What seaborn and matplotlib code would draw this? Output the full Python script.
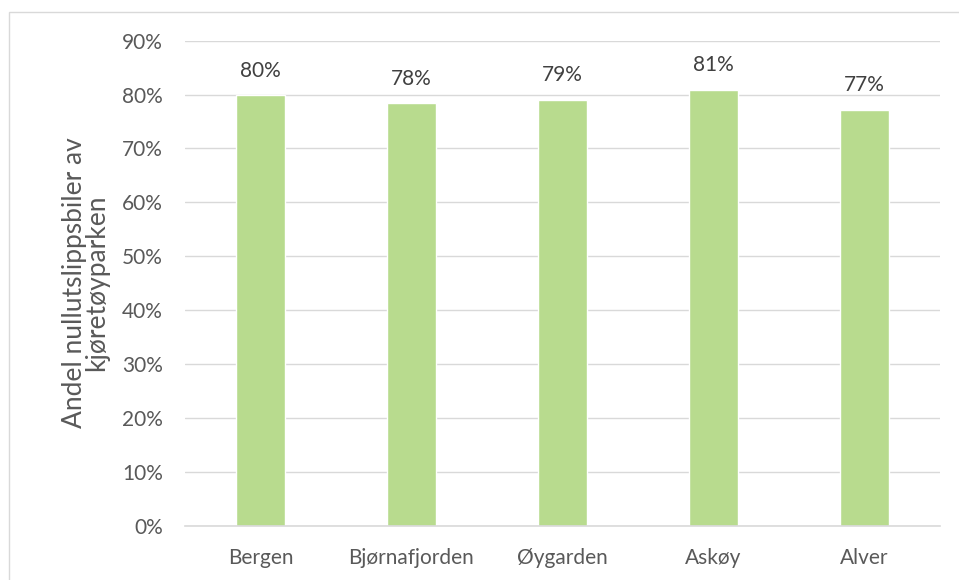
import matplotlib
matplotlib.use("Agg")
import matplotlib.pyplot as plt
import matplotlib.ticker as mticker
from matplotlib.patches import Rectangle
import pandas as pd
import seaborn as sns

kommuner = ["Bergen", "Bjørnafjorden", "Øygarden", "Askøy", "Alver"]
andel = [79.9, 78.4, 79.0, 80.9, 77.2]
y_ticks = [0, 10, 20, 30, 40, 50, 60, 70, 80, 90]

df = pd.DataFrame({"kommune": kommuner, "andel": andel})

sns.set_theme(style="white")
plt.rcParams["font.family"] = ["Lato", "DejaVu Sans"]

fig = plt.figure(figsize=(9.59, 5.80), dpi=100)
ax = fig.add_axes([185 / 959, 1 - 525.5 / 580, (940 - 185) / 959, (525.5 - 40.7) / 580])

sns.barplot(data=df, x="kommune", y="andel", color="#B8DB8E", width=0.32,
            saturation=1, ax=ax, zorder=3)

ax.set_ylim(0, 90)
ax.set_yticks(y_ticks)
ax.yaxis.set_major_formatter(mticker.FuncFormatter(lambda v, _: f"{v:.0f}%"))
ax.set_xlim(-0.5, len(kommuner) - 0.5)

ax.grid(axis="y", color="#D9D9D9", linewidth=1.0, zorder=0)
ax.grid(axis="x", visible=False)
for side in ["top", "right", "left"]:
    ax.spines[side].set_visible(False)
ax.spines["bottom"].set_color("#D9D9D9")
ax.spines["bottom"].set_linewidth(1.2)
ax.spines["bottom"].set_zorder(4)

ax.tick_params(axis="y", length=0, pad=16, labelsize=15, labelcolor="#595959")
ax.tick_params(axis="x", length=0, pad=16, labelsize=15, labelcolor="#595959")

ax.set_xlabel("")
ax.set_ylabel("Andel nullutslippsbiler av\nkjøretøyparken", fontsize=19,
              color="#595959", labelpad=9, linespacing=0.88)

for patch, val in zip(ax.patches, andel):
    ax.annotate(f"{val:.0f}%", (patch.get_x() + patch.get_width() / 2, patch.get_height()),
                xytext=(0, 10.5), textcoords="offset points", ha="center", va="bottom",
                fontsize=15, color="#404040")

# light frame around the chart area
fig.patches.append(Rectangle((8.5 / 959, -0.05), 1.1, 1 - 11.5 / 580 + 0.05,
                             transform=fig.transFigure, fill=False,
                             edgecolor="#D9D9D9", linewidth=1.0))

fig.savefig("out.png", dpi=100)
